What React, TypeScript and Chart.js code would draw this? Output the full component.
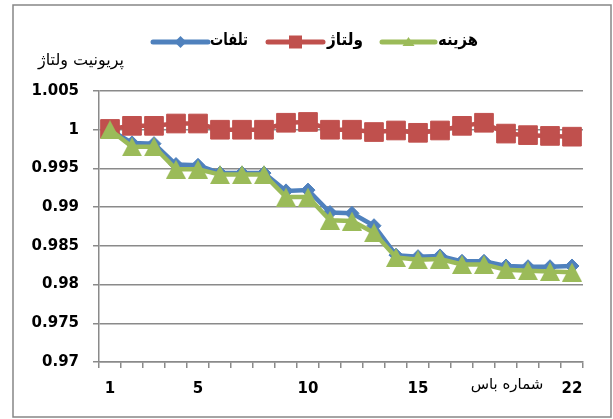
import React, { useEffect, useRef } from "react";
import { Chart, registerables } from "chart.js";

Chart.register(...registerables);

// ---- data ----
const categories = ["1", "2", "3", "4", "5", "6", "7", "8", "9", "10", "11", "12", "13", "14", "15", "16", "17", "18", "19", "20", "21", "22"];
const shownTickLabels = ["1", "5", "10", "15", "22"];
const yTickMin = 0.97;
const yTickMax = 1.005;
const yTickStep = 0.005;

const seriesNames = ["تلفات", "ولتاژ", "هزینه"];
const lossValues = [1.0, 0.9983, 0.9982, 0.9955, 0.9954, 0.9944, 0.9944, 0.9944, 0.9921, 0.9922, 0.9893, 0.9892, 0.9876, 0.9838, 0.9836, 0.9837, 0.9830, 0.9830, 0.9824, 0.9823, 0.9823, 0.9824];
const voltageValues = [1.0001, 1.0005, 1.0005, 1.0008, 1.0008, 1.0, 1.0, 1.0, 1.0009, 1.001, 1.0, 1.0, 0.9997, 0.9999, 0.9996, 0.9999, 1.0005, 1.0009, 0.9995, 0.9993, 0.9992, 0.9991];
const costValues = [1.0, 0.9978, 0.9978, 0.9949, 0.9949, 0.9942, 0.9942, 0.9942, 0.9913, 0.9913, 0.9883, 0.9882, 0.9867, 0.9835, 0.9832, 0.9833, 0.9826, 0.9826, 0.9819, 0.9818, 0.9817, 0.9816];

const yTitle = "پریونیت ولتاژ";
const xTitle = "شماره باس";

const BLUE = "#4F81BD";
const RED = "#C0504D";
const GREEN = "#9BBB59";
const GRID = "#8a8a8a";
const AR_FONT = "'DejaVu Sans', sans-serif";

function makeTriangle(w: number, h: number, color: string): HTMLCanvasElement {
  const c = document.createElement("canvas");
  c.width = w;
  c.height = h;
  const ctx = c.getContext("2d")!;
  ctx.fillStyle = color;
  ctx.beginPath();
  ctx.moveTo(w / 2, 0);
  ctx.lineTo(w, h);
  ctx.lineTo(0, h);
  ctx.closePath();
  ctx.fill();
  return c;
}

const decorPlugin = {
  id: "decor",
  beforeDraw(chart: any) {
    const ctx = chart.ctx;
    ctx.save();
    ctx.fillStyle = "#fff";
    ctx.fillRect(0, 0, chart.width, chart.height);
    ctx.restore();
  },
  afterDraw(chart: any) {
    const ctx = chart.ctx;
    ctx.save();
    // outer frame
    ctx.strokeStyle = "#868686";
    ctx.lineWidth = 1.5;
    ctx.strokeRect(13, 5, 598, 412);

    // axis titles
    ctx.fillStyle = "#000";
    ctx.textBaseline = "middle";
    ctx.textAlign = "center";
    ctx.font = `16px ${AR_FONT}`;
    ctx.fillText(yTitle, 81, 61, 96);
    ctx.font = `15px ${AR_FONT}`;
    ctx.fillText(xTitle, 507, 385, 77);

    // legend
    const ly = 42;
    const items = [
      { x0: 153, x1: 208, tx: 210, tw: 38, color: BLUE, kind: "diamond" },
      { x0: 268, x1: 323, tx: 327, tw: 36, color: RED, kind: "square" },
      { x0: 382, x1: 435, tx: 438, tw: 40, color: GREEN, kind: "triangle" },
    ];
    items.forEach((it, i) => {
      ctx.strokeStyle = it.color;
      ctx.fillStyle = it.color;
      ctx.lineWidth = 5;
      ctx.lineCap = "round";
      ctx.beginPath();
      ctx.moveTo(it.x0, ly);
      ctx.lineTo(it.x1, ly);
      ctx.stroke();
      const cx = (it.x0 + it.x1) / 2;
      ctx.beginPath();
      if (it.kind === "diamond") {
        ctx.moveTo(cx, ly - 6);
        ctx.lineTo(cx + 6, ly);
        ctx.lineTo(cx, ly + 6);
        ctx.lineTo(cx - 6, ly);
      } else if (it.kind === "square") {
        ctx.rect(cx - 6.5, ly - 6.5, 13, 13);
      } else {
        ctx.moveTo(cx, ly - 5);
        ctx.lineTo(cx + 6, ly + 4);
        ctx.lineTo(cx - 6, ly + 4);
      }
      ctx.closePath();
      ctx.fill();
      ctx.fillStyle = "#000";
      ctx.font = `bold 17px ${AR_FONT}`;
      ctx.textAlign = "left";
      ctx.fillText(seriesNames[i], it.tx, ly - 1, it.tw);
    });
    ctx.restore();
  },
};

export default function App() {
  const canvasRef = useRef<HTMLCanvasElement | null>(null);

  useEffect(() => {
    if (!canvasRef.current) return;
    const triangle = makeTriangle(20, 19, GREEN);
    const tickFont = { family: "'DejaVu Sans', sans-serif", size: 15, weight: "bold" as const };
    const chart = new Chart(canvasRef.current, {
      type: "line",
      data: {
        labels: categories,
        datasets: [
          {
            label: seriesNames[0],
            data: lossValues,
            borderColor: BLUE,
            backgroundColor: BLUE,
            borderWidth: 4.5,
            pointStyle: "rectRot",
            pointRadius: 7,
            pointBorderWidth: 1,
            pointBorderColor: BLUE,
            pointBackgroundColor: BLUE,
            tension: 0,
            order: 2,
            clip: false as any,
          },
          {
            label: seriesNames[1],
            data: voltageValues,
            borderColor: RED,
            backgroundColor: RED,
            borderWidth: 4.5,
            pointStyle: "rect",
            pointRadius: 13.2,
            pointBorderWidth: 1,
            pointBorderColor: RED,
            pointBackgroundColor: RED,
            tension: 0,
            order: 1,
            clip: false as any,
          },
          {
            label: seriesNames[2],
            data: costValues,
            borderColor: GREEN,
            backgroundColor: GREEN,
            borderWidth: 4.5,
            pointStyle: triangle as any,
            pointRadius: 10,
            tension: 0,
            order: 0,
            clip: false as any,
          },
        ],
      },
      options: {
        responsive: false,
        animation: false,
        devicePixelRatio: 1,
        layout: { padding: { left: 0, right: 30, top: 91, bottom: 0 } },
        plugins: {
          legend: { display: false },
          tooltip: { enabled: false },
          title: { display: false },
        },
        scales: {
          x: {
            type: "category",
            offset: true,
            grid: {
              offset: true,
              drawOnChartArea: false,
              drawTicks: true,
              tickLength: 6,
              color: GRID,
              lineWidth: 1.5,
            },
            border: { color: GRID, width: 1.5 },
            ticks: {
              autoSkip: false,
              maxRotation: 0,
              minRotation: 0,
              padding: 12,
              color: "#000",
              font: tickFont,
              callback: (_v: any, i: number) =>
                shownTickLabels.includes(categories[i]) ? categories[i] : "",
            },
            afterFit: (s: any) => {
              s.height = 57;
            },
          },
          y: {
            min: yTickMin,
            max: yTickMax,
            grid: { color: GRID, lineWidth: 1.5, tickLength: 6 },
            border: { color: GRID, width: 1.5 },
            ticks: {
              stepSize: yTickStep,
              padding: 14,
              color: "#000",
              font: tickFont,
              callback: (v: any) => String(parseFloat(Number(v).toFixed(3))),
            },
            afterFit: (s: any) => {
              s.width = 99;
            },
          },
        },
      },
      plugins: [decorPlugin],
    });
    return () => chart.destroy();
  }, []);

  return (
    <div style={{ position: "absolute", left: 0, top: 0, width: 613, height: 419, background: "#fff" }}>
      <canvas ref={canvasRef} width={613} height={419} style={{ display: "block", width: 613, height: 419 }} />
    </div>
  );
}
